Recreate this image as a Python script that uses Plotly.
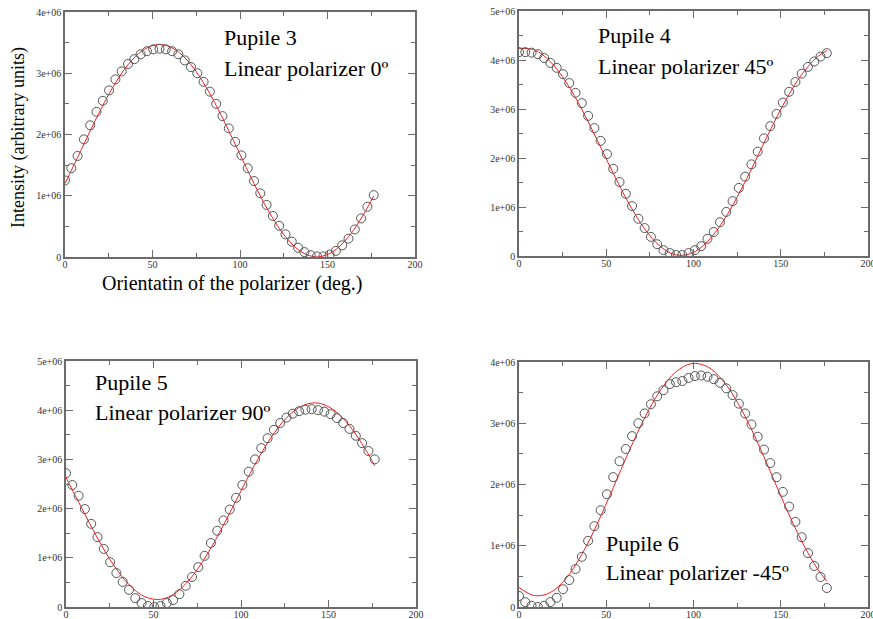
import plotly.graph_objects as go

# ---------------- data (intensity in units of 1e6) ----------------
ANGLE = [0, 3.6, 7.2, 10.8, 14.4, 18, 21.6, 25.2, 28.8, 32.4,
         36, 39.6, 43.2, 46.8, 50.4, 54, 57.6, 61.2, 64.8, 68.4,
         72, 75.6, 79.2, 82.8, 86.4, 90, 93.6, 97.2, 100.8, 104.4,
         108, 111.6, 115.2, 118.8, 122.4, 126, 129.6, 133.2, 136.8, 140.4,
         144, 147.6, 151.2, 154.8, 158.4, 162, 165.6, 169.2, 172.8, 176.4]

FIT_ANGLE = [0, 9, 18, 27, 36, 45, 54, 63, 72, 81, 90, 99, 108, 117, 126,
             135, 144, 153, 162, 171, 176.4]

P3_POINTS = [1.25, 1.45, 1.65, 1.92, 2.15, 2.37, 2.55, 2.72, 2.90, 3.03,
             3.15, 3.23, 3.31, 3.36, 3.39, 3.40, 3.39, 3.36, 3.31, 3.21,
             3.10, 3.00, 2.86, 2.70, 2.50, 2.30, 2.10, 1.88, 1.66, 1.45,
             1.24, 1.04, 0.85, 0.67, 0.51, 0.37, 0.25, 0.15, 0.08, 0.03,
             0.01, 0.01, 0.04, 0.10, 0.19, 0.30, 0.45, 0.63, 0.82, 1.01]
P3_FIT = [1.199, 1.735, 2.271, 2.755, 3.139, 3.385, 3.470, 3.385, 3.139, 2.755,
          2.271, 1.735, 1.199, 0.715, 0.331, 0.085, 0.000, 0.085, 0.331, 0.715, 0.996]

P4_POINTS = [4.16, 4.16, 4.15, 4.12, 4.04, 3.94, 3.84, 3.71, 3.53, 3.33,
             3.12, 2.86, 2.61, 2.35, 2.08, 1.78, 1.51, 1.27, 1.02, 0.76,
             0.57, 0.39, 0.24, 0.12, 0.06, 0.02, 0.02, 0.06, 0.12, 0.20,
             0.35, 0.49, 0.69, 0.90, 1.12, 1.39, 1.62, 1.87, 2.13, 2.40,
             2.65, 2.90, 3.13, 3.35, 3.55, 3.72, 3.86, 3.97, 4.07, 4.14]
P4_FIT = [4.238, 4.203, 3.966, 3.548, 2.993, 2.352, 1.689, 1.070, 0.555, 0.193,
          0.022, 0.057, 0.294, 0.712, 1.267, 1.908, 2.571, 3.190, 3.705, 4.067, 4.194]

P5_POINTS = [2.72, 2.48, 2.26, 1.99, 1.69, 1.42, 1.18, 0.91, 0.69, 0.51,
             0.35, 0.18, 0.08, 0.02, 0.00, 0.02, 0.08, 0.14, 0.26, 0.43,
             0.61, 0.81, 1.04, 1.30, 1.55, 1.76, 1.98, 2.22, 2.48, 2.75,
             3.00, 3.23, 3.43, 3.60, 3.74, 3.85, 3.93, 3.98, 4.01, 4.02,
             4.00, 3.97, 3.92, 3.84, 3.74, 3.62, 3.48, 3.33, 3.17, 3.00]
P5_FIT = [2.634, 2.010, 1.400, 0.864, 0.454, 0.210, 0.155, 0.296, 0.618, 1.090,
          1.666, 2.290, 2.900, 3.436, 3.846, 4.090, 4.145, 4.004, 3.682, 3.210, 2.873]

P6_POINTS = [0.18, 0.08, 0.02, 0.00, 0.02, 0.08, 0.15, 0.29, 0.44, 0.62,
             0.82, 1.08, 1.32, 1.58, 1.84, 2.12, 2.38, 2.58, 2.79, 3.00,
             3.16, 3.31, 3.44, 3.54, 3.64, 3.67, 3.69, 3.74, 3.77, 3.78,
             3.76, 3.72, 3.66, 3.57, 3.46, 3.32, 3.16, 2.98, 2.78, 2.57,
             2.35, 2.12, 1.88, 1.64, 1.39, 1.14, 0.88, 0.67, 0.49, 0.31]
P6_FIT = [0.319, 0.185, 0.237, 0.469, 0.858, 1.368, 1.947, 2.540, 3.087, 3.535,
          3.841, 3.975, 3.923, 3.691, 3.302, 2.793, 2.213, 1.620, 1.073, 0.625, 0.421]

X_TICKS = [0, 50, 100, 150, 200]
X_TICK_TEXT = ["0", "50", "100", "150", "200"]
Y_TICKS = [0, 1, 2, 3, 4, 5]
Y_TICK_TEXT = ["0", "1e+06", "2e+06", "3e+06", "4e+06", "5e+06"]

PANELS = [
    ("Pupile 3", "Linear polarizer 0º", P3_POINTS, P3_FIT, 4),
    ("Pupile 4", "Linear polarizer 45º", P4_POINTS, P4_FIT, 5),
    ("Pupile 5", "Linear polarizer 90º", P5_POINTS, P5_FIT, 5),
    ("Pupile 6", "Linear polarizer -45º", P6_POINTS, P6_FIT, 4),
]

Y_TITLE = "Intensity (arbitrary units)"
X_TITLE = "Orientatin of the polarizer (deg.)"

# ---------------- layout geometry (window pixels) ----------------
W, H = 873, 619
def px_x(x):
    return x / W
def px_y(y):
    return 1 - y / H

X_DOMAINS = [(65, 415), (519, 868), (66, 416), (519, 868)]
Y_DOMAINS = [(12, 257), (11, 256), (361, 607), (362, 607)]
LABEL_POS = [(222, 37, 68), (596, 36, 66), (93, 382, 412), (604, 543, 572)]

SERIF = "Liberation Serif"
AXIS_COLOR = "#6b6b6b"

fig = go.Figure()
layout = dict(
    width=W, height=H, autosize=False,
    margin=dict(l=0, r=0, t=0, b=0, pad=0),
    paper_bgcolor="white", plot_bgcolor="white",
    showlegend=False,
    annotations=[],
)

for i, (t1, t2, pts, fit, ymax) in enumerate(PANELS):
    n = "" if i == 0 else str(i + 1)
    xa, ya = "x" + n, "y" + n
    fig.add_trace(go.Scatter(
        x=FIT_ANGLE, y=fit, xaxis=xa, yaxis=ya, mode="lines",
        line=dict(color="#ff1a1a", width=1, shape="spline", smoothing=1.0),
        hoverinfo="skip"))
    fig.add_trace(go.Scatter(
        x=ANGLE, y=pts, xaxis=xa, yaxis=ya, mode="markers",
        marker=dict(symbol="circle-open", size=9, color="#555555",
                    line=dict(width=1, color="#555555"))))
    x0, x1 = X_DOMAINS[i]
    y0, y1 = Y_DOMAINS[i]
    common = dict(
        showline=True, linecolor=AXIS_COLOR, linewidth=1.5, mirror="ticks",
        ticks="inside", ticklen=7, tickwidth=1, tickcolor=AXIS_COLOR,
        showgrid=False, zeroline=False, automargin=False,
        ticklabeloverflow="allow",
        tickfont=dict(family=SERIF, size=10, color="#333333"),
    )
    layout["xaxis" + n] = dict(
        common, domain=[px_x(x0), px_x(x1)], anchor=ya, range=[0, 200],
        tickvals=X_TICKS, ticktext=X_TICK_TEXT, ticklabelstandoff=-3,
        minor=dict(ticks="inside", ticklen=4, dtick=25, tick0=0,
                   tickcolor=AXIS_COLOR, showgrid=False),
    )
    layout["yaxis" + n] = dict(
        common, domain=[px_y(y1), px_y(y0)], anchor=xa, range=[0, ymax],
        tickvals=Y_TICKS[:ymax + 1], ticktext=Y_TICK_TEXT[:ymax + 1],
        minor=dict(ticks="inside", ticklen=4, dtick=0.5, tick0=0,
                   tickcolor=AXIS_COLOR, showgrid=False),
    )
    lx, ly1, ly2 = LABEL_POS[i]
    for txt, yy in ((t1, ly1), (t2, ly2)):
        layout["annotations"].append(dict(
            text=txt, xref="paper", yref="paper", x=px_x(lx), y=px_y(yy),
            xanchor="left", yanchor="middle", showarrow=False,
            font=dict(family=SERIF, size=22, color="black")))

layout["annotations"].append(dict(
    text=Y_TITLE, xref="paper", yref="paper", x=px_x(18), y=px_y(138),
    xanchor="center", yanchor="middle", textangle=-90, showarrow=False,
    font=dict(family=SERIF, size=18, color="black")))
layout["annotations"].append(dict(
    text=X_TITLE, xref="paper", yref="paper", x=px_x(232), y=px_y(284),
    xanchor="center", yanchor="middle", showarrow=False,
    font=dict(family=SERIF, size=20, color="black")))

fig.update_layout(**layout)
fig.write_html(
    "out.html",
    config={"displayModeBar": False},
    post_script="document.body.style.margin='0';document.body.style.overflow='hidden';",
)
